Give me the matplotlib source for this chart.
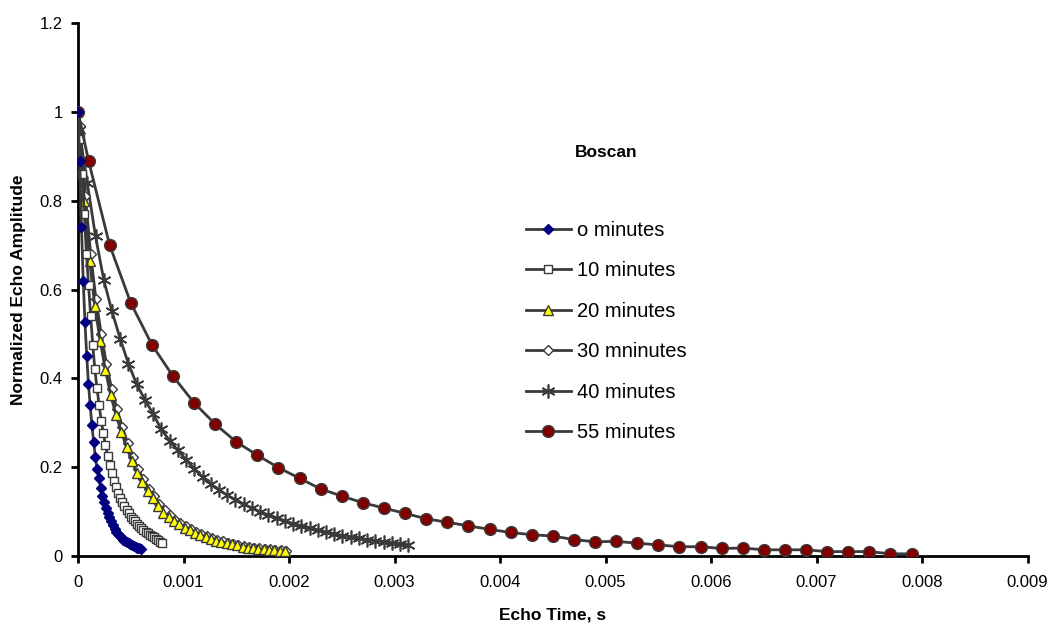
import matplotlib.pyplot as plt

plt.rcParams["font.family"] = ["Liberation Sans", "DejaVu Sans"]

# echo times (s) and normalized amplitudes
t_0 = [0.0, 0.0000165, 0.000033, 0.0000495, 0.000066, 0.0000825, 0.000099, 0.0001155,
       0.000132, 0.0001485, 0.000165, 0.0001815, 0.000198, 0.0002145, 0.000231, 0.000248,
       0.000264, 0.000281, 0.000297, 0.000314, 0.00033, 0.000347, 0.000363, 0.00038,
       0.000396, 0.000413, 0.000429, 0.000446, 0.000462, 0.000479, 0.000495, 0.000512,
       0.000528, 0.000545, 0.000561, 0.000578, 0.000594]
a_0 = [1.0, 0.889, 0.74, 0.62, 0.527, 0.451, 0.388, 0.339, 0.295, 0.256, 0.222, 0.196,
       0.175, 0.154, 0.136, 0.121, 0.108, 0.097, 0.087, 0.078, 0.069, 0.061, 0.055, 0.05,
       0.045, 0.041, 0.037, 0.034, 0.032, 0.029, 0.027, 0.025, 0.023, 0.021, 0.019, 0.017,
       0.015]

t_10 = [0.0, 0.00002, 0.00004, 0.00006, 0.00008, 0.0001, 0.00012, 0.00014, 0.00016,
        0.00018, 0.0002, 0.00022, 0.00024, 0.00026, 0.00028, 0.0003, 0.00032, 0.00034,
        0.00036, 0.00038, 0.0004, 0.00042, 0.00044, 0.00046, 0.00048, 0.0005, 0.00052,
        0.00054, 0.00056, 0.00058, 0.0006, 0.00062, 0.00064, 0.00066, 0.00068, 0.0007,
        0.00072, 0.00074, 0.00076, 0.00078, 0.0008]
a_10 = [1.0, 0.94, 0.86, 0.77, 0.68, 0.61, 0.54, 0.475, 0.42, 0.378, 0.34, 0.305, 0.277,
        0.25, 0.226, 0.205, 0.186, 0.17, 0.155, 0.142, 0.131, 0.121, 0.112, 0.104, 0.096,
        0.089, 0.083, 0.078, 0.073, 0.068, 0.063, 0.059, 0.055, 0.051, 0.048, 0.045, 0.042,
        0.039, 0.036, 0.032, 0.029]

t_20 = [0.00001, 0.00006, 0.00011, 0.00016, 0.00021, 0.00026, 0.00031, 0.00036, 0.00041,
        0.00046, 0.00051, 0.00056, 0.00061, 0.00066, 0.00071, 0.00076, 0.00081, 0.00086,
        0.00091, 0.00096, 0.00101, 0.00106, 0.00111, 0.00116, 0.00121, 0.00126, 0.00131,
        0.00136, 0.00141, 0.00146, 0.00151, 0.00156, 0.00161, 0.00166, 0.00171, 0.00176,
        0.00181, 0.00186, 0.00191, 0.00196]
a_20 = [0.967, 0.8, 0.665, 0.562, 0.485, 0.418, 0.362, 0.318, 0.28, 0.245, 0.214, 0.188,
        0.166, 0.146, 0.13, 0.113, 0.098, 0.088, 0.079, 0.071, 0.064, 0.058, 0.052, 0.047,
        0.042, 0.038, 0.034, 0.031, 0.029, 0.026, 0.024, 0.021, 0.019, 0.018, 0.016, 0.015,
        0.014, 0.013, 0.012, 0.011]

t_30 = [0.00002, 0.00007, 0.00012, 0.00017, 0.00022, 0.00027, 0.00032, 0.00037, 0.00042,
        0.00047, 0.00052, 0.00057, 0.00062, 0.00067, 0.00072, 0.00077, 0.00082, 0.00087,
        0.00092, 0.00097, 0.00102, 0.00107, 0.00112, 0.00117, 0.00122, 0.00127, 0.00132,
        0.00137, 0.00142, 0.00147, 0.00152, 0.00157, 0.00162, 0.00167, 0.00172, 0.00177,
        0.00182, 0.00187, 0.00192, 0.00197]
a_30 = [0.968, 0.81, 0.68, 0.578, 0.5, 0.432, 0.375, 0.33, 0.29, 0.255, 0.223, 0.196,
        0.173, 0.152, 0.135, 0.118, 0.103, 0.092, 0.082, 0.074, 0.067, 0.06, 0.054, 0.049,
        0.044, 0.04, 0.036, 0.033, 0.03, 0.027, 0.025, 0.022, 0.02, 0.019, 0.017, 0.016,
        0.015, 0.014, 0.013, 0.012]

t_40 = [0.00001, 0.000088, 0.000166, 0.000244, 0.000322, 0.0004, 0.000478, 0.000556,
        0.000634, 0.000712, 0.00079, 0.000868, 0.000946, 0.001024, 0.001102, 0.00118,
        0.001258, 0.001336, 0.001414, 0.001492, 0.00157, 0.001648, 0.001726, 0.001804,
        0.001882, 0.00196, 0.002038, 0.002116, 0.002194, 0.002272, 0.00235, 0.002428,
        0.002506, 0.002584, 0.002662, 0.00274, 0.002818, 0.002896, 0.002974, 0.003052,
        0.00313]
a_40 = [0.96, 0.84, 0.72, 0.622, 0.551, 0.489, 0.433, 0.387, 0.352, 0.32, 0.285, 0.26,
        0.238, 0.217, 0.196, 0.178, 0.162, 0.149, 0.137, 0.127, 0.117, 0.108, 0.1, 0.092,
        0.085, 0.079, 0.073, 0.068, 0.063, 0.058, 0.054, 0.05, 0.046, 0.043, 0.04, 0.037,
        0.034, 0.032, 0.029, 0.027, 0.024]

t_55 = [0.0, 0.0001, 0.0003, 0.0005, 0.0007, 0.0009, 0.0011, 0.0013, 0.0015, 0.0017,
        0.0019, 0.0021, 0.0023, 0.0025, 0.0027, 0.0029, 0.0031, 0.0033, 0.0035, 0.0037,
        0.0039, 0.0041, 0.0043, 0.0045, 0.0047, 0.0049, 0.0051, 0.0053, 0.0055, 0.0057,
        0.0059, 0.0061, 0.0063, 0.0065, 0.0067, 0.0069, 0.0071, 0.0073, 0.0075, 0.0077,
        0.0079]
a_55 = [1.0, 0.89, 0.70, 0.57, 0.476, 0.405, 0.345, 0.297, 0.257, 0.227, 0.199, 0.175,
        0.151, 0.135, 0.12, 0.108, 0.096, 0.084, 0.076, 0.068, 0.06, 0.053, 0.048, 0.045,
        0.037, 0.032, 0.033, 0.029, 0.025, 0.021, 0.021, 0.017, 0.018, 0.014, 0.014, 0.014,
        0.01, 0.01, 0.01, 0.005, 0.005]

labels = ["o minutes", "10 minutes", "20 minutes", "30 mninutes", "40 minutes", "55 minutes"]

LINE = "#3a3a3a"

fig = plt.figure(figsize=(10.54, 6.28), dpi=100)
ax = fig.add_axes([0.074, 0.1146, 0.901, 0.8487])

ax.plot(t_0, a_0, color=LINE, lw=2, marker="D", ms=5, mfc="#000080", mec="#000080",
        label=labels[0], zorder=8)
ax.plot(t_10, a_10, color=LINE, lw=2, marker="s", ms=6, mfc="white", mec=LINE,
        mew=1, label=labels[1], zorder=6)
ax.plot(t_30, a_30, color=LINE, lw=2, marker="D", ms=5, mfc="white", mec=LINE,
        mew=1, label=labels[3], zorder=4)
ax.plot(t_20, a_20, color=LINE, lw=2, marker="^", ms=6.5, mfc="#ffff00", mec=LINE,
        mew=1, label=labels[2], zorder=5)
ax.plot(t_40, a_40, color=LINE, lw=2, marker=(6, 2, 0), ms=10, mec=LINE, mew=1.2,
        label=labels[4], zorder=3)
ax.plot(t_55, a_55, color=LINE, lw=2, marker="o", ms=8.5, mfc="#800000", mec=LINE,
        mew=1, label=labels[5], zorder=7)

ax.set_xlim(0, 0.009)
ax.set_ylim(0, 1.2)
ax.set_xticks([0, 0.001, 0.002, 0.003, 0.004, 0.005, 0.006, 0.007, 0.008, 0.009])
ax.set_xticklabels(["0", "0.001", "0.002", "0.003", "0.004", "0.005", "0.006",
                    "0.007", "0.008", "0.009"])
ax.set_yticks([0, 0.2, 0.4, 0.6, 0.8, 1.0, 1.2])
ax.set_yticklabels(["0", "0.2", "0.4", "0.6", "0.8", "1", "1.2"])
ax.tick_params(direction="out", length=5, width=2, labelsize=12)
ax.tick_params(axis="x", pad=9)
ax.tick_params(axis="y", pad=6)
for s in ["top", "right"]:
    ax.spines[s].set_visible(False)
for s in ["left", "bottom"]:
    ax.spines[s].set_linewidth(2)

ax.set_xlabel("Echo Time, s", fontsize=12.5, fontweight="bold", labelpad=12)
ax.set_ylabel("Normalized Echo Amplitude", fontsize=12.5, fontweight="bold", labelpad=10)

handles, labs = ax.get_legend_handles_labels()
order = [labs.index(l) for l in labels]
ax.legend([handles[i] for i in order], [labs[i] for i in order],
          loc="upper left", bbox_to_anchor=(0.4615, 0.648), frameon=False,
          fontsize=14.5, borderpad=0, handlelength=2.2, handletextpad=0.3,
          labelspacing=1.07)
ax.text(0.556, 0.758, "Boscan", transform=ax.transAxes, fontsize=12.5,
        fontweight="bold", ha="center", va="center")

fig.savefig("out.png", dpi=100)
